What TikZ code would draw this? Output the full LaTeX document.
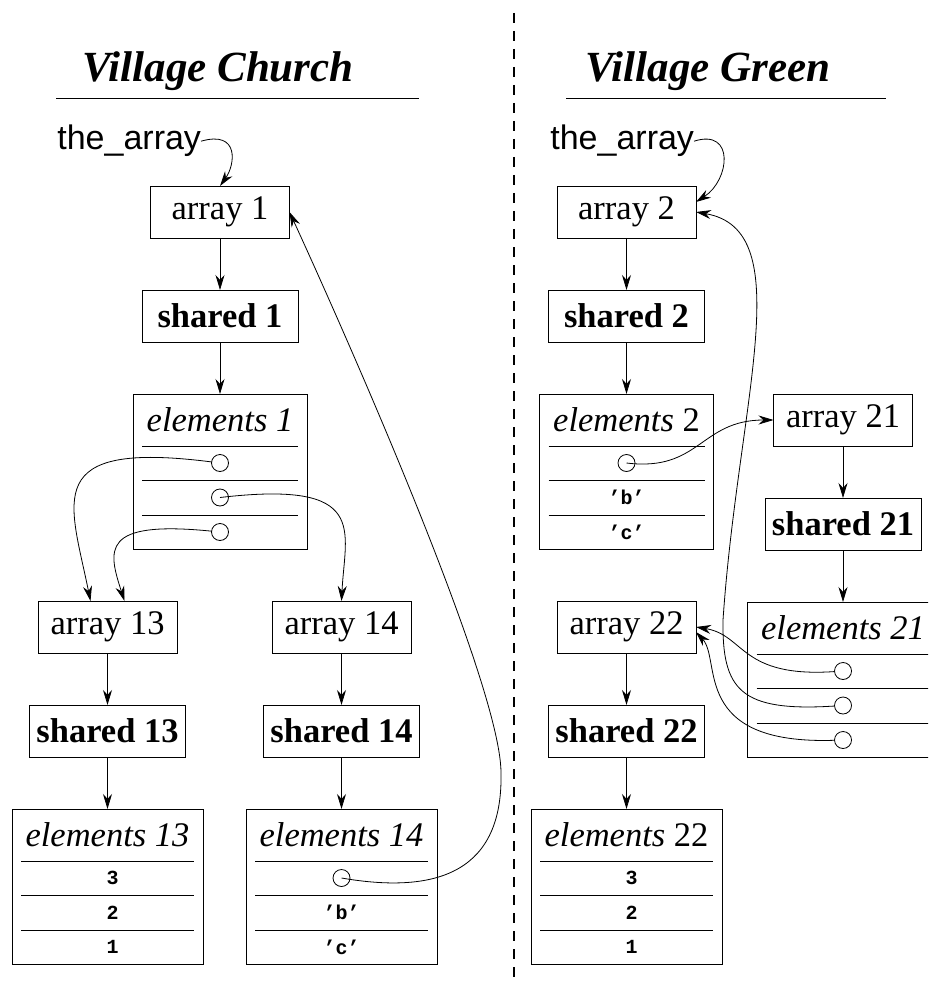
\documentclass[tikz,border=0pt]{standalone}
\usepackage{fontspec}
\setmainfont{Liberation Serif}
\setsansfont{Liberation Sans}
\setmonofont{Liberation Mono}
\usetikzlibrary{arrows.meta,positioning}

\begin{document}
\begin{tikzpicture}[x=1pt,y=-1pt,node distance=52pt,every node/.style={font=\fontsize{34.5}{40}\selectfont,inner sep=0pt,outer sep=0pt},arrbox/.style={draw,line width=0.9pt,minimum width=139pt,minimum height=52pt},shbox/.style={arrbox,minimum width=156pt,font=\fontsize{34.5}{40}\selectfont\bfseries},elbox/.style={draw,line width=0.9pt,minimum width=#1,minimum height=155pt},ptr/.style={circle,draw,line width=0.8pt,minimum size=17pt},val/.style={font=\fontsize{20}{22}\selectfont\ttfamily\bfseries},ttl/.style={font=\fontsize{43}{48}\selectfont\bfseries\itshape,anchor=base},ref/.style={font=\fontsize{34}{40}\selectfont\sffamily,anchor=base east},arr/.style={-{Stealth[length=15pt,width=9pt]},line width=0.8pt}]
\clip (0,0) rectangle (928,984);
% titles and divider
\node[ttl] (ttlc) at (218,82) {Village Church};
\node[ttl] (ttlg) at (708,82) {Village Green};
\draw[line width=1pt] (56,99) -- (419,99);\draw[line width=1pt] (566,99) -- (886,99);
\draw[line width=1.4pt,dash pattern=on 10pt off 8pt] (514,13) -- (514,984);
% church
\node[ref] (ref1) at (201,150) {the\_array};
\node[arrbox] (a1) at (220,212) {array 1};
\node[shbox,below=of a1] (s1) {shared 1};
\node[elbox=174pt,below=of s1] (e1) {};
\node[arrbox,below=52pt of e1,xshift=-112.5pt] (a13) {array 13};
\node[arrbox,below=52pt of e1,xshift=121.5pt] (a14) {array 14};
\node[shbox,below=of a13] (s13) {shared 13};
\node[shbox,below=of a14] (s14) {shared 14};
\node[elbox=191pt,below=of s13] (e13) {};
\node[elbox=191pt,below=of s14] (e14) {};
% green
\node[ref] (ref2) at (694,150) {the\_array};
\node[arrbox] (a2) at (626.5,212) {array 2};
\node[shbox,below=of a2] (s2) {shared 2};
\node[elbox=174pt,below=of s2] (e2) {};
\node[arrbox] (a21) at (843,420) {array 21};
\node[shbox,below=of a21] (s21) {shared 21};
\node[elbox=191pt,below=of s21] (e21) {};
\node[arrbox,below=of e2] (a22) {array 22};
\node[shbox,below=of a22] (s22) {shared 22};
\node[elbox=191pt,below=of s22] (e22) {};
% element headers and rows
\node (e1h) at ([yshift=-26pt]e1.north) {\textit{elements 1}};
\node (e13h) at ([yshift=-26pt]e13.north) {\textit{elements 13}};
\node (e14h) at ([yshift=-26pt]e14.north) {\textit{elements 14}};
\node (e2h) at ([yshift=-26pt]e2.north) {\textit{elements} 2};
\node (e21h) at ([yshift=-26pt]e21.north) {\textit{elements 21}};
\node (e22h) at ([yshift=-26pt]e22.north) {\textit{elements} 22};
\foreach \bx in {e1,e2,e13,e14,e21,e22}{\foreach \dy in {52,86,121}{\draw[line width=0.9pt] ([xshift=9pt,yshift=-\dy pt]\bx.north west) -- ([xshift=-9pt,yshift=-\dy pt]\bx.north east);}}
\node[ptr] (p1a) at ([yshift=-69pt]e1.north) {};
\node[ptr] (p1b) at ([yshift=-103.5pt]e1.north) {};
\node[ptr] (p1c) at ([yshift=-138pt]e1.north) {};
\node[val] (v13a) at ([xshift=5pt,yshift=-69pt]e13.north) {3};
\node[val] (v13b) at ([xshift=5pt,yshift=-103.5pt]e13.north) {2};
\node[val] (v13c) at ([xshift=5pt,yshift=-138pt]e13.north) {1};
\node[ptr] (p14) at ([yshift=-69pt]e14.north) {};
\node[val] (v14b) at ([yshift=-103.5pt]e14.north) {’b’};
\node[val] (v14c) at ([yshift=-138pt]e14.north) {’c’};
\node[ptr] (p2) at ([yshift=-69pt]e2.north) {};
\node[val] (v2b) at ([yshift=-103.5pt]e2.north) {’b’};
\node[val] (v2c) at ([yshift=-138pt]e2.north) {’c’};
\node[ptr] (p21a) at ([yshift=-69pt]e21.north) {};
\node[ptr] (p21b) at ([yshift=-103.5pt]e21.north) {};
\node[ptr] (p21c) at ([yshift=-138pt]e21.north) {};
\node[val] (v22a) at ([xshift=5pt,yshift=-69pt]e22.north) {3};
\node[val] (v22b) at ([xshift=5pt,yshift=-103.5pt]e22.north) {2};
\node[val] (v22c) at ([xshift=5pt,yshift=-138pt]e22.north) {1};
% straight links
\draw[arr] (a1) -- (s1);\draw[arr] (s1) -- (e1);\draw[arr] (a13) -- (s13);\draw[arr] (s13) -- (e13);\draw[arr] (a14) -- (s14);\draw[arr] (s14) -- (e14);
\draw[arr] (a2) -- (s2);\draw[arr] (s2) -- (e2);\draw[arr] (a21) -- (s21);\draw[arr] (s21) -- (e21);\draw[arr] (a22) -- (s22);\draw[arr] (s22) -- (e22);
% pointers
\coordinate (bend14) at (501,773);
\coordinate (bend21) at (723,620);
\draw[arr] (ref1.east) .. controls (240,130) and (235,165) .. (a1.north);
\draw[arr] (p1a) .. controls (40,440) and (70,500) .. ([xshift=-17pt]a13.north);
\draw[arr] (p1b.center) .. controls (370,480) and (345,530) .. (a14.north);
\draw[arr] (p1c) .. controls (100,520) and (108,550) .. ([xshift=17pt]a13.north);
\draw[arr] (p14.center) .. controls (440,895) and (503,870) .. (bend14) .. controls (501,680) and (330,300) .. (a1.east);
\draw[arr] (ref2.east) .. controls (735,128) and (730,180) .. ([yshift=10pt]a2.east);
\draw[arr] (p2.center) .. controls (700,472) and (700,420) .. (a21.west);
\draw[arr] (p21a) .. controls (740,678) and (745,635) .. (a22.east);
\draw[arr] (p21c) .. controls (690,745) and (722,660) .. ([yshift=-5pt]a22.east);
\draw[arr] (p21b) .. controls (740,712) and (722,690) .. (bend21) .. controls (738,400) and (800,230) .. (a2.east);
\end{tikzpicture}
\end{document}
